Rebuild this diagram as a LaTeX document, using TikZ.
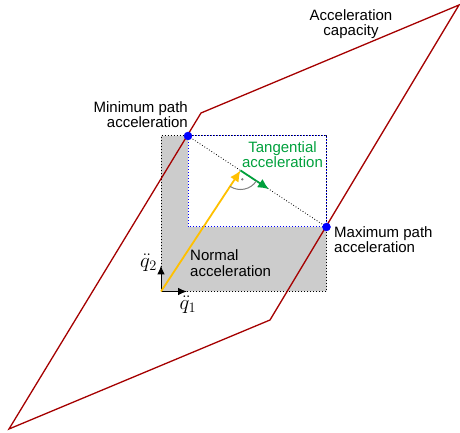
\documentclass[tikz,border=0pt]{standalone}
\usepackage{amsmath}
\usepackage{fontspec}
\setmainfont{Liberation Sans}
\usepackage{xcolor}
\usepackage{tikz}
\usetikzlibrary{arrows.meta,calc}

\definecolor{capred}{RGB}{165,0,0}
\definecolor{tangreen}{RGB}{0,160,60}
\definecolor{normyellow}{RGB}{255,192,0}
\definecolor{regiongray}{RGB}{204,204,204}

\begin{document}
\begin{tikzpicture}[x=1pt,y=1pt,
  lbl/.style={inner sep=0pt, font=\fontsize{15}{15.5}\selectfont},
  axlbl/.style={inner sep=0pt, font=\fontsize{20}{22}\selectfont}]
  \useasboundingbox (0,0) rectangle (460,433);
  % Corners of the capacity polygon
  \coordinate (A) at (9,4);
  \coordinate (B) at (270,113);
  \coordinate (C) at (459,428);
  \coordinate (D) at (201,320);
  % Path acceleration limits and origin
  \coordinate (O) at (161,141.5);
  \coordinate (minP) at (188,297);
  \coordinate (maxP) at (326.5,206);
  \coordinate (F) at ($(minP)!(O)!(maxP)$);
  \coordinate (G) at ($(minP)!0.585!(maxP)$);
  % Reachable region (gray L)
  \fill[regiongray] (O) -- (O |- minP) -- (minP) -- (minP |- maxP) -- (maxP) -- (maxP |- O) -- cycle;
  \draw[black, dotted, line width=1pt] (O) rectangle (minP -| maxP);
  % Inner box
  \draw[blue, dotted, line width=1pt] (minP) rectangle (maxP);
  % Path line
  \draw[black, dotted, line width=0.8pt] (minP) -- (maxP);
  % Acceleration capacity
  \draw[capred, line width=1.3pt] (A) -- (B) -- (C) -- (D) -- cycle;
  % Axes
  \draw[-{Latex[length=9pt,width=7.5pt]}, line width=1pt] (O) -- ++(0,26) coordinate (q2tip);
  \draw[-{Latex[length=9pt,width=7.5pt]}, line width=1pt] (O) -- ++(26,0) coordinate (q1tip);
  \node[axlbl, anchor=east] (q2lbl) at ($(q2tip)+(-4,3)$) {$\ddot{q}_2$};
  \node[axlbl, anchor=north] (q1lbl) at ($(q1tip)+(1,-4)$) {$\ddot{q}_1$};
  % Normal and tangential arrows
  \draw[normyellow, line width=1.8pt, -{Latex[length=11pt,width=10pt]}] (O) -- (F);
  \draw[tangreen, line width=1.8pt, -{Latex[length=11pt,width=10pt]}] (F) -- (G);
  % Right angle
  \draw[gray, line width=1pt] ($(F)!19pt!(O)$) arc[start angle=236.6, end angle=326.6, radius=19];
  \fill[gray] ($(F)+(281.6:9)$) circle (1.3pt);
  % Limit points
  \filldraw[blue] (minP) circle (4pt);
  \filldraw[blue] (maxP) circle (4pt);
  % Labels
  \node[lbl, anchor=north, align=center] (caplbl) at (351,423.7) {Acceleration\\capacity};
  \node[lbl, anchor=north east, align=right] (minlbl) at (188,332) {Minimum path\\acceleration};
  \node[lbl, anchor=north west, align=left] (maxlbl) at (334,207) {Maximum path\\acceleration};
  \node[lbl, anchor=north, align=center, text=tangreen] (tanlbl) at (282.5,292) {Tangential\\acceleration};
  \node[lbl, anchor=north west, align=left] (normlbl) at (190,183.5) {Normal\\acceleration};
\end{tikzpicture}
\end{document}
